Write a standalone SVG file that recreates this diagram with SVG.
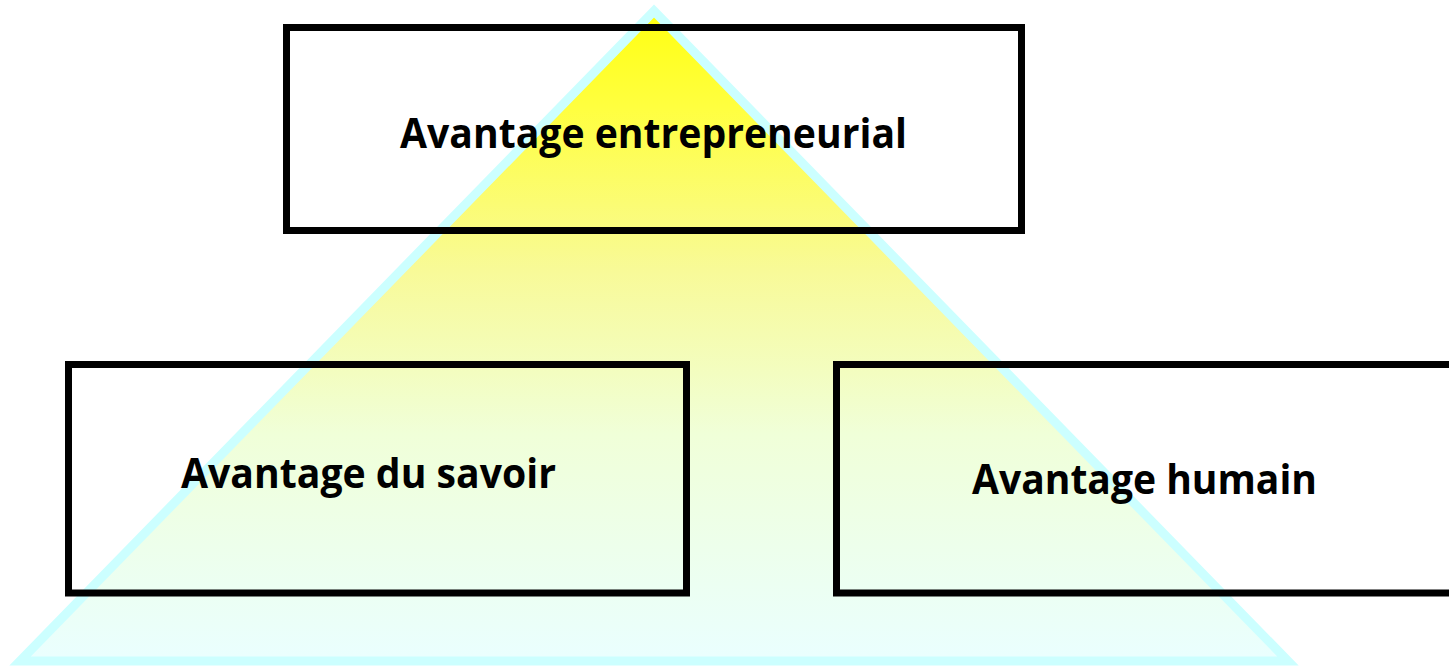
<svg xmlns="http://www.w3.org/2000/svg" width="1449" height="666" viewBox="0 0 1449 666">
<style>
.box{fill:none;stroke:#000;stroke-width:7}
.lbl{font-family:"Open Sans","Noto Sans","Liberation Sans",sans-serif;font-weight:bold;font-size:42px;fill:#000}
</style>
<defs>
<linearGradient id="g" x1="0" y1="11" x2="0" y2="661" gradientUnits="userSpaceOnUse">
<stop offset="0" stop-color="#ffff10"/>
<stop offset="0.15" stop-color="#ffff40"/>
<stop offset="0.4" stop-color="#f8fa98"/>
<stop offset="0.65" stop-color="#f0ffd8"/>
<stop offset="1" stop-color="#eaffff"/>
</linearGradient>
</defs>
<rect width="1449" height="666" fill="#fff"/>
<g id="pyramid">
<polygon points="654,11 1288,661 20,661" fill="url(#g)" stroke="#ccffff" stroke-width="9" stroke-linejoin="miter"/>
</g>
<g id="connectors"></g>
<g id="top">
<rect class="box" x="286.5" y="27.5" width="735" height="203"/>
<text class="lbl" x="653.5" y="148" text-anchor="middle" textLength="507" lengthAdjust="spacingAndGlyphs">Avantage entrepreneurial</text>
</g>
<g id="left">
<rect class="box" x="68.5" y="364.5" width="618" height="228.5"/>
<text class="lbl" x="368.5" y="488" text-anchor="middle" textLength="375" lengthAdjust="spacingAndGlyphs">Avantage du savoir</text>
</g>
<g id="right">
<rect class="box" x="836.5" y="364.5" width="640" height="228.5"/>
<text class="lbl" x="1144.5" y="494" text-anchor="middle" textLength="345" lengthAdjust="spacingAndGlyphs">Avantage humain</text>
</g>
</svg>
